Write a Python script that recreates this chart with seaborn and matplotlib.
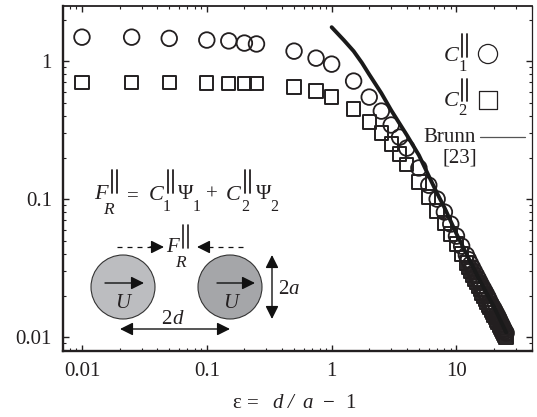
import matplotlib
matplotlib.use("Agg")
import matplotlib.pyplot as plt
import pandas as pd
import seaborn as sns
from matplotlib.patches import Circle
from matplotlib.ticker import FixedFormatter, FixedLocator, LogLocator, NullFormatter

W, H = 537, 417
INK = "#231f20"

eps = [0.01, 0.025, 0.05, 0.1, 0.15, 0.2, 0.25, 0.5, 0.75, 1, 1.5, 2, 2.5, 3, 3.5, 4,
       5, 6, 7, 8, 9, 10, 11, 12, 12.5, 13, 13.5, 14, 14.5, 15, 15.5, 16, 16.5, 17, 17.5, 18, 18.5,
       19, 19.5, 20, 20.5, 21, 21.5, 22, 22.5, 23, 23.5, 24, 24.5, 25]
c1 = [1.49, 1.49, 1.46, 1.42, 1.40, 1.35, 1.33, 1.18, 1.05, 0.95, 0.716, 0.548, 0.434, 0.344, 0.281, 0.234,
      0.168, 0.126, 0.100, 0.0805, 0.0659, 0.0539, 0.0456, 0.0393, 0.0364, 0.0338, 0.0316, 0.0296, 0.0279,
      0.0263, 0.0248, 0.0234, 0.0223, 0.0212, 0.0202, 0.0192, 0.0182, 0.0173, 0.0166, 0.0160, 0.0153,
      0.0147, 0.0141, 0.0135, 0.0129, 0.0124, 0.0119, 0.0114, 0.0110, 0.0107]
c2 = [0.70, 0.70, 0.70, 0.695, 0.69, 0.69, 0.69, 0.648, 0.606, 0.548, 0.449, 0.361, 0.301, 0.250, 0.212, 0.179,
      0.133, 0.1033, 0.0818, 0.0670, 0.0557, 0.0472, 0.0399, 0.0344, 0.0321, 0.0301, 0.0281, 0.0263, 0.0248,
      0.0234, 0.0220, 0.0208, 0.0198, 0.0188, 0.0179, 0.0171, 0.0164, 0.0157, 0.0150, 0.0144, 0.0138,
      0.0133, 0.0127, 0.0122, 0.0118, 0.0114, 0.0110, 0.0107, 0.0103, 0.0100]

brunn_x = [1, 1.25, 1.5, 1.75, 2, 2.5, 3, 4, 5, 6, 7, 8, 10, 15, 20, 25]
brunn_y = [1.76, 1.42, 1.18, 0.97, 0.80, 0.586, 0.44, 0.291, 0.208, 0.147, 0.110, 0.087, 0.056, 0.0268, 0.0165, 0.0108]

x_ticks = [0.01, 0.1, 1, 10]
x_labels = ["0.01", "0.1", "1", "10"]
y_ticks = [0.01, 0.1, 1]
y_labels = ["0.01", "0.1", "1"]

sns.set_theme(style="ticks")
plt.rcParams["font.family"] = ["Liberation Serif", "DejaVu Serif"]
plt.rcParams["text.color"] = INK

ARROW = "-|>,head_length=0.6,head_width=0.3"
ARROW2 = "<|-|>,head_length=0.6,head_width=0.3"


def px(x, y):
    # pixel position in the reference -> figure fraction
    return x / W, 1 - y / H


def label(x, y, s, size=15, style="italic", ha="left", va="baseline"):
    fx, fy = px(x, y)
    fig.text(fx, fy, s, fontsize=size, style=style, ha=ha, va=va, color=INK)


def bars(x, top, bottom, lw=1.3):
    # the tall parallel sign, the font one is too short
    for dx in (0, 4.5):
        fig.add_artist(plt.Line2D([(x + dx) / W] * 2, [1 - top / H, 1 - bottom / H], color=INK, lw=lw))


def arrow(x0, y0, x1, y1, style=ARROW, lw=1.0, scale=13):
    fig_ax.annotate("", xy=(x1, y1), xytext=(x0, y0),
                    arrowprops=dict(arrowstyle=style, color="#111111", lw=lw, mutation_scale=scale,
                                    shrinkA=0, shrinkB=0))


fig = plt.figure(figsize=(W / 100, H / 100), dpi=100)
ax = fig.add_axes([63 / W, 1 - 351 / H, (532 - 63) / W, (351 - 6) / H])

df = pd.DataFrame({"eps": eps, "c1": c1, "c2": c2})
sns.scatterplot(data=df, x="eps", y="c1", marker="o", s=126, facecolors="none", edgecolor=INK, linewidth=1.3, ax=ax, zorder=3)
sns.scatterplot(data=df, x="eps", y="c2", marker="s", s=92, facecolors="none", edgecolor=INK, linewidth=1.4, ax=ax, zorder=4)
sns.lineplot(x=brunn_x, y=brunn_y, color="#1a1a1a", linewidth=2.8, ax=ax, zorder=5, errorbar=None, sort=False)

ax.set_xscale("log")
ax.set_yscale("log")
ax.set_xlim(10 ** -2.152, 10 ** 1.605)
ax.set_ylim(10 ** -2.101, 10 ** 0.399)
ax.set_xlabel("")
ax.set_ylabel("")
ax.xaxis.set_major_locator(FixedLocator(x_ticks))
ax.xaxis.set_major_formatter(FixedFormatter(x_labels))
ax.yaxis.set_major_locator(FixedLocator(y_ticks))
ax.yaxis.set_major_formatter(FixedFormatter(y_labels))
for axis in (ax.xaxis, ax.yaxis):
    axis.set_minor_locator(LogLocator(base=10, subs=range(2, 10), numticks=12))
    axis.set_minor_formatter(NullFormatter())
ax.tick_params(which="major", direction="in", length=4.5, width=1.0, top=True, right=True, labelsize=15,
               colors=INK, pad=8)
ax.tick_params(which="minor", direction="in", length=2.2, width=0.8, top=True, right=True, colors=INK)
for side, lw in {"left": 1.7, "bottom": 1.7, "top": 1.3, "right": 0.9}.items():
    ax.spines[side].set_visible(True)
    ax.spines[side].set_linewidth(lw)
    ax.spines[side].set_color(INK)

# overlay in reference pixels for the sketch and the legend
fig_ax = fig.add_axes([0, 0, 1, 1], facecolor="none")
fig_ax.set_xlim(0, W)
fig_ax.set_ylim(H, 0)
fig_ax.axis("off")

# x label
label(232, 408, "ε", style="normal")
label(247, 408, "=", style="normal")
label(272, 408, "d")
label(288, 408, "/")
label(302, 408, "a")
label(323, 408, "−", style="normal")
label(345, 408, "1", style="normal")

# legend
label(444, 61, "C", size=16)
bars(462, 34, 57)
label(458, 71, "1", style="normal", size=12)
label(444, 106, "C", size=16)
bars(462, 79, 101)
label(458, 115, "2", style="normal", size=12)
sns.scatterplot(x=[488], y=[54], marker="o", s=190, facecolors="none", edgecolor=INK, linewidth=0.9, ax=fig_ax)
sns.scatterplot(x=[488], y=[100], marker="s", s=150, facecolors="none", edgecolor=INK, linewidth=0.9, ax=fig_ax)
fig_ax.set_xlim(0, W)
fig_ax.set_ylim(H, 0)
label(423, 142, "Brunn", style="normal")
label(443, 163, "[23]", style="normal")
fig_ax.plot([480, 525], [137, 137], color="#555555", lw=0.9)

# equation
label(94, 199, "F", size=16)
bars(112, 170, 193)
label(103, 214, "R", size=12.5)
label(127, 201, "=", style="normal")
label(149, 200, "C", size=16)
bars(168, 170, 193)
label(163, 211, "1", style="normal", size=11.5)
label(178, 199, "Ψ", style="normal")
label(193, 211, "1", style="normal", size=11.5)
label(206, 200, "+", style="normal")
label(226, 200, "C", size=16)
bars(245, 170, 193)
label(241, 211, "2", style="normal", size=11.5)
label(256, 199, "Ψ", style="normal")
label(270, 211, "2", style="normal", size=11.5)

# sketch of the two spheres
fig_ax.add_patch(Circle((123, 287), 32, facecolor="#bcbdc0", edgecolor="#333333", lw=0.8))
fig_ax.add_patch(Circle((230, 287), 32, facecolor="#a5a6a9", edgecolor="#333333", lw=0.8))
label(166, 252, "F", size=15)
bars(183, 225, 248, lw=1.2)
label(175, 267, "R", size=12.5)
fig_ax.plot([117, 153], [247, 247], color="#111111", lw=0.9, ls=(0, (4, 4)))
fig_ax.plot([208, 243], [247, 247], color="#111111", lw=0.9, ls=(0, (4, 4)))
arrow(150, 247, 164, 247)
arrow(209, 247, 197, 247)
arrow(105, 283, 144, 283)
arrow(217, 283, 255, 283)
label(123, 308, "U", ha="center")
label(231, 308, "U", ha="center")
arrow(120, 329, 230, 329, style=ARROW2)
label(172, 324, "2", style="normal", ha="right")
label(172, 324, "d")
arrow(272, 255, 272, 319, style=ARROW2)
label(278, 294, "2", style="normal")
label(288, 294, "a")

fig.savefig("out.png", dpi=100)
plt.close(fig)
